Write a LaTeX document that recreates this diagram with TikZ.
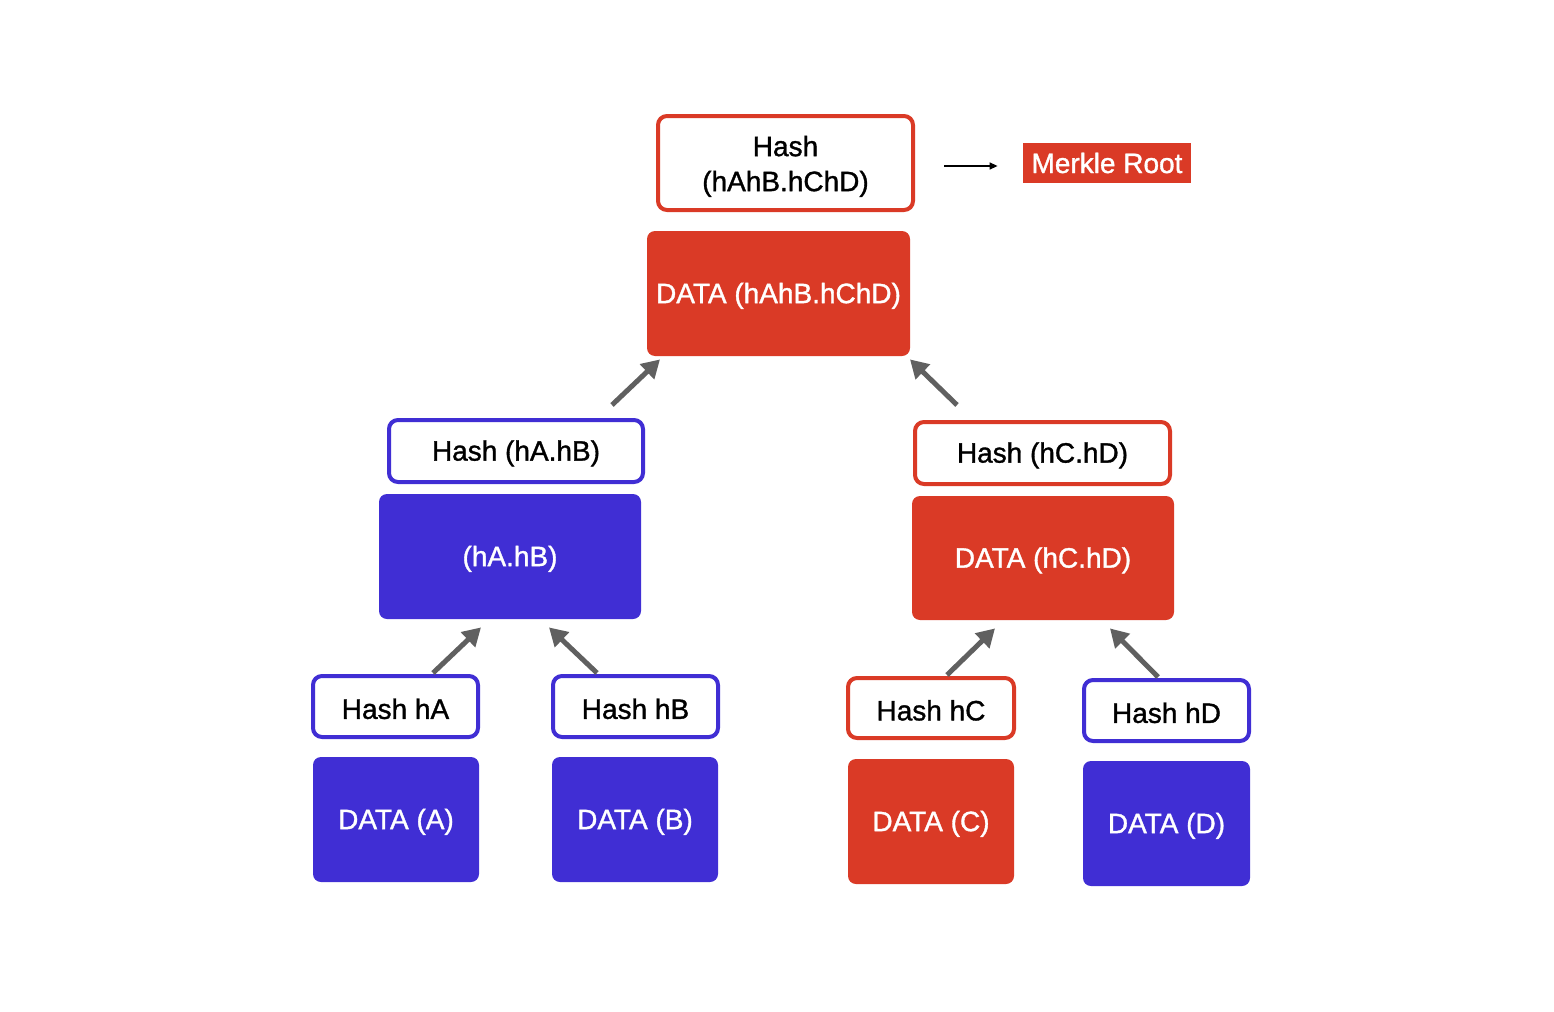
\documentclass[tikz,border=0pt]{standalone}
\usepackage{fontspec}
\setmainfont{Liberation Sans}
\newfontfamily\medfont[FakeBold=1.2]{Liberation Sans}
\usetikzlibrary{arrows.meta}
\definecolor{mred}{RGB}{218,58,38}
\definecolor{mblue}{RGB}{64,46,212}
\definecolor{agray}{RGB}{96,96,96}
\newcommand{\dfont}{\medfont\fontsize{14pt}{17.5pt}\selectfont}
\newcommand{\mystrut}{\rule{0pt}{12.5pt}}
\newcommand{\tallstrut}{\rule{0pt}{13.5pt}}
\tikzset{
  hashbox/.style={draw, line width=2pt, rounded corners=4.5pt, fill=white, text=black, font=\dfont, align=center, inner sep=0pt, execute at begin node=\mystrut},
  databox/.style={rounded corners=4pt, text=white, font=\dfont, align=center, inner sep=0pt, execute at begin node=\mystrut},
  garrow/.style={draw=agray, line width=2.5pt, -{Triangle[length=9pt,width=10pt]}},
  karrow/.style={draw=black, line width=0.7pt, -{Triangle[length=4pt,width=3.5pt]}}
}
\begin{document}
\begin{tikzpicture}[x=0.5pt,y=-0.5pt]
\useasboundingbox (0,0) rectangle (1554,1012);
% root
\node[hashbox, draw=mred, minimum width=127.5pt, minimum height=47pt] (rh) at (785.5,163) {\tallstrut Hash\\(hAhB.hChD)};
\node[databox, fill=mred, minimum width=131.5pt, minimum height=62.5pt] (rd) at (778.5,293.5) {DATA (hAhB.hChD)};
\node[fill=mred, text=white, font=\dfont, inner sep=0pt, minimum width=84pt, minimum height=20pt] (mr) at (1107,163) {Merkle Root};
% level 2
\node[hashbox, draw=mblue, minimum width=127pt, minimum height=31pt] (hab) at (516,451) {Hash (hA.hB)};
\node[databox, fill=mblue, minimum width=131pt, minimum height=62.5pt] (dab) at (510,556.5) {(hA.hB)};
\node[hashbox, draw=mred, minimum width=127.5pt, minimum height=31pt] (hcd) at (1042.5,453) {Hash (hC.hD)};
\node[databox, fill=mred, minimum width=131pt, minimum height=62pt] (dcd) at (1043,558) {DATA (hC.hD)};
% leaves
\node[hashbox, draw=mblue, minimum width=82.5pt, minimum height=30.5pt] (ha) at (395.5,706.5) {Hash hA};
\node[hashbox, draw=mblue, minimum width=82.5pt, minimum height=30.5pt] (hb) at (635.5,706.5) {Hash hB};
\node[hashbox, draw=mred, minimum width=83pt, minimum height=30pt] (hc) at (931,708) {Hash hC};
\node[hashbox, draw=mblue, minimum width=82.5pt, minimum height=30.5pt] (hd) at (1166.5,710.5) {Hash hD};
\node[databox, fill=mblue, minimum width=83pt, minimum height=62.5pt] (da) at (396,819.5) {DATA (A)};
\node[databox, fill=mblue, minimum width=83pt, minimum height=62.5pt] (db) at (635,819.5) {DATA (B)};
\node[databox, fill=mred, minimum width=83pt, minimum height=62.5pt] (dc) at (931,821.5) {DATA (C)};
\node[databox, fill=mblue, minimum width=83.5pt, minimum height=62.5pt] (dd) at (1166.5,823.5) {DATA (D)};
% arrows
\draw[karrow] ([xshift=14.5pt,yshift=-1.5pt]rh.east) -- ([xshift=-12.5pt,yshift=-1.5pt]mr.west);
\draw[garrow] ([xshift=48pt,yshift=6.5pt]hab.north) -- ([xshift=-59.25pt,yshift=-1.5pt]rd.south);
\draw[garrow] ([xshift=-42.75pt,yshift=7.5pt]hcd.north) -- ([xshift=65.75pt,yshift=-1.5pt]rd.south);
\draw[garrow] ([xshift=18.75pt,yshift=0.5pt]ha.north) -- ([xshift=-14.5pt,yshift=-4pt]dab.south);
\draw[garrow] ([xshift=-19.25pt,yshift=0.5pt]hb.north) -- ([xshift=19.5pt,yshift=-4pt]dab.south);
\draw[garrow] ([xshift=8pt,yshift=0.5pt]hc.north) -- ([xshift=-24pt,yshift=-4pt]dcd.south);
\draw[garrow] ([xshift=-4.25pt,yshift=0.5pt]hd.north) -- ([xshift=33.5pt,yshift=-4pt]dcd.south);
\end{tikzpicture}
\end{document}
